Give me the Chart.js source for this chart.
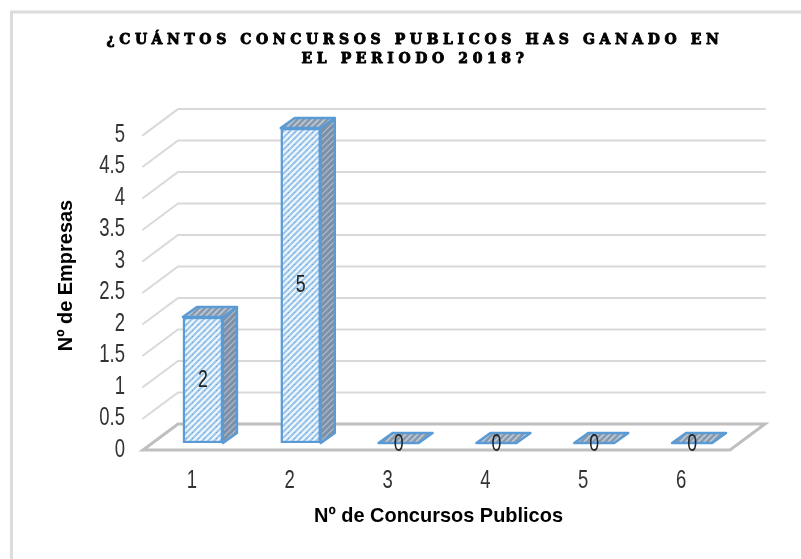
<!DOCTYPE html>
<html><head><meta charset="utf-8">
<style>html,body{margin:0;padding:0;background:#fff}#w{width:801px;height:559px;position:relative}</style>
<script src="https://cdn.jsdelivr.net/npm/chart.js@4"></script></head>
<body><div id="w"><canvas id="c" width="801" height="559"></canvas></div>
<script>
const categories = ['1','2','3','4','5','6'];
const empresas = [2,5,0,0,0,0];
const titleLines = ['¿CUÁNTOS CONCURSOS PUBLICOS HAS GANADO EN','EL PERIODO 2018?'];
const xTitle = 'Nº de Concursos Publicos';
const yTitle = 'Nº de Empresas';
const SANS = '"Liberation Sans",sans-serif';
const BLUE = '#5B9BD5';

const ctx0 = document.getElementById('c').getContext('2d');
// The reference uses a condensed face, which is not installed: squeeze Liberation Sans horizontally.
const rawFill = ctx0.fillText.bind(ctx0);
ctx0.fillText = function(t,x,y,m){
  const f = ctx0.font;
  if(f.includes('DejaVu Serif')){
    // the reference title face is very heavy: thicken the bold serif
    ctx0.save(); ctx0.strokeStyle='#000'; ctx0.lineWidth=0.9; ctx0.lineJoin='round';
    ctx0.strokeText(t,x,y); ctx0.restore();
    return rawFill(t,x,y);
  }
  if(!f.includes('Liberation Sans')) return rawFill(t,x,y,m);
  const k = f.includes('bold') ? 0.95 : 0.74;
  ctx0.save(); ctx0.translate(x,y); ctx0.scale(k,1); rawFill(t,0,0); ctx0.restore();
};

function pat(bg, stripe, w, dots){
  const s = 6, p = document.createElement('canvas'); p.width = p.height = s;
  const x = p.getContext('2d');
  x.fillStyle = bg; x.fillRect(0,0,s,s);
  x.strokeStyle = stripe; x.lineWidth = w;
  x.beginPath();
  x.moveTo(-1,1); x.lineTo(1,-1);
  x.moveTo(-1,s+1); x.lineTo(s+1,-1);
  x.moveTo(s-1,s+1); x.lineTo(s+1,s-1);
  x.stroke();
  if(dots){x.fillStyle=dots;x.fillRect(1,1,1,1);}
  return x.createPattern(p,'repeat');
}
const frontFill = pat('#9CC5E9','#EEF6FC',2.2,'#6FA6DA');
const sideFill = pat('#7C90A8','#B0BCCA',1.2);
const topFill = pat('#8799AE','#BEC8D2',1.6);

const DX=35, DY=-26, BX=11, BY=-7, TX=14, TY=-10;

function shift(scale,dx,dy){
  if(scale.__s) return; scale.__s=true;
  const d=scale.drawTitle.bind(scale);
  scale.drawTitle=function(){ const c=scale.ctx; c.save(); c.translate(dx,dy); d(); c.restore(); };
}

const scene = {
  id:'scene',
  beforeLayout(chart){
    const t = chart.titleBlock;
    if(t && !t.__w){ t.__w = true; const d = t.draw.bind(t);
      t.draw = function(){ const c=chart.ctx; c.save(); c.letterSpacing='4.6px'; c.translate(23,0); d(); c.restore(); }; }
  },
  beforeDraw(chart){
    shift(chart.scales.y,0,-17);
    shift(chart.scales.x,2,3);
    const c=chart.ctx;
    c.save(); c.strokeStyle='#DCDCDC'; c.lineWidth=3;
    c.beginPath(); c.moveTo(11.5,559); c.lineTo(11.5,12); c.lineTo(801,12); c.stroke();
    c.restore();
  },
  beforeDatasetsDraw(chart){
    const c=chart.ctx, a=chart.chartArea, y=chart.scales.y;
    c.save();
    c.lineCap='round';
    c.strokeStyle='#D9D9D9'; c.lineWidth=2;
    y.ticks.forEach(t=>{
      if(t.value===0) return;
      const p=y.getPixelForValue(t.value);
      c.beginPath(); c.moveTo(a.left,p); c.lineTo(a.left+DX,p+DY); c.lineTo(a.right+DX,p+DY); c.stroke();
    });
    const z=y.getPixelForValue(0);
    c.strokeStyle='#BFBFBF'; c.lineWidth=3;
    c.beginPath(); c.moveTo(a.left,z); c.lineTo(a.left+DX,z+DY); c.lineTo(a.right+DX,z+DY);
    c.lineTo(a.right,z); c.closePath(); c.stroke();
    c.restore();
    c.save();
    c.translate(BX,BY);
  },
  afterDatasetsDraw(chart){
    const c=chart.ctx;
    c.restore();
    const m=chart.getDatasetMeta(0);
    c.save();
    c.lineJoin='round'; c.strokeStyle=BLUE; c.lineWidth=2.5;
    m.data.forEach((b,i)=>{
      const hw=b.width/2, l=b.x-hw+BX, r=b.x+hw+BX, t=b.y+BY, bt=b.base+BY;
      const zero=empresas[i]===0;
      if(!zero){
        c.fillStyle=sideFill;
        c.beginPath(); c.moveTo(r,t); c.lineTo(r+TX,t+TY); c.lineTo(r+TX,bt+TY); c.lineTo(r,bt); c.closePath(); c.fill(); c.stroke();
      }
      c.fillStyle=topFill;
      c.beginPath(); c.moveTo(l,t); c.lineTo(l+TX,t+TY); c.lineTo(r+TX,t+TY); c.lineTo(r,t); c.closePath(); c.fill(); c.stroke();
      c.fillStyle='#222'; c.font='24px '+SANS; c.textAlign='center'; c.textBaseline='middle';
      c.fillText(String(empresas[i]), b.x+BX, zero? b.y+BY+1 : (b.y+b.base)/2+BY);
    });
    c.restore();
  }
};

new Chart(ctx0,{
  type:'bar',
  data:{labels:categories,datasets:[{data:empresas,backgroundColor:frontFill,borderColor:BLUE,borderWidth:2.5,barThickness:40,borderSkipped:false}]},
  plugins:[scene],
  options:{
    responsive:false,animation:false,
    layout:{padding:{left:54,right:71,top:0,bottom:33}},
    plugins:{
      legend:{display:false},tooltip:{enabled:false},
      title:{display:true,text:titleLines,color:'#000',font:{family:'"DejaVu Serif"',weight:'bold',size:14,lineHeight:1.36},padding:{top:31,bottom:66}}
    },
    scales:{
      x:{
        grid:{display:false},border:{display:false},
        ticks:{color:'#333',font:{family:SANS,size:25},padding:8,maxRotation:0},
        title:{display:true,text:xTitle,color:'#000',font:{family:SANS,weight:'bold',size:21},padding:{top:8,bottom:0}},
        afterFit(s){s.height=76;}
      },
      y:{
        min:0,max:5,
        grid:{display:false},border:{display:false},
        ticks:{stepSize:0.5,autoSkip:false,color:'#333',font:{family:SANS,size:25},padding:10,callback:v=>String(v)},
        title:{display:true,text:yTitle,color:'#000',font:{family:SANS,weight:'bold',size:21},padding:{top:0,bottom:10}},
        afterFit(s){s.width=89;}
      }
    }
  }
});
</script></body></html>
